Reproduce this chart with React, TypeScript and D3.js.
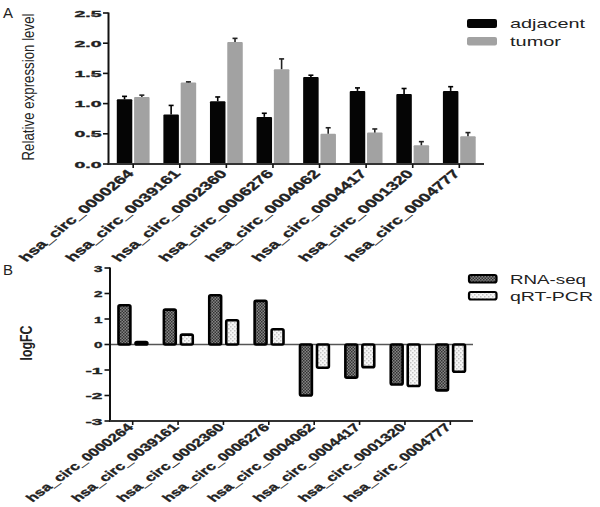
import React from "react";
import * as d3 from "d3";

const categories = [
  "hsa_circ_0000264",
  "hsa_circ_0039161",
  "hsa_circ_0002360",
  "hsa_circ_0006276",
  "hsa_circ_0004062",
  "hsa_circ_0004417",
  "hsa_circ_0001320",
  "hsa_circ_0004777",
];
const adjacent = [1.07, 0.82, 1.04, 0.78, 1.44, 1.21, 1.16, 1.21];
const adjacentErr = [0.05, 0.15, 0.07, 0.06, 0.03, 0.05, 0.09, 0.07];
const tumor = [1.11, 1.35, 2.02, 1.57, 0.5, 0.52, 0.31, 0.46];
const tumorErr = [0.03, 0.01, 0.06, 0.17, 0.1, 0.06, 0.06, 0.06];
const rnaSeq = [1.59, 1.42, 1.98, 1.76, -2.05, -1.35, -1.62, -1.85];
const qrtPcr = [0.15, 0.44, 1.0, 0.65, -0.96, -0.94, -1.68, -1.12];
const ticksA = [0, 0.5, 1.0, 1.5, 2.0, 2.5];
const ticksB = [-3, -2, -1, 0, 1, 2, 3];

const SX = 1.3;
const SY = 0.92;
const FONT = "'Liberation Sans', Arial, Helvetica, sans-serif";
const TXT = "#222";

function ST(props: {
  x: number;
  y: number;
  len: number;
  size: number;
  anchor?: string;
  weight?: string;
  rot?: number;
  heavy?: boolean;
  children: React.ReactNode;
}) {
  const { x, y, len, size, anchor = "start", weight = "normal", rot = 0, heavy = false, children } = props;
  const factor = rot
    ? Math.sqrt(Math.pow(SX * Math.cos((rot * Math.PI) / 180), 2) + Math.pow(SY * Math.sin((rot * Math.PI) / 180), 2))
    : SX;
  return (
    <text
      transform={`translate(${x},${y}) scale(${SX},${SY})${rot ? ` rotate(${rot})` : ""}`}
      fontSize={size}
      fontWeight={weight}
      fontFamily={FONT}
      fill={TXT}
      stroke={heavy ? TXT : "none"}
      strokeWidth={heavy ? 0.35 : 0}
      textAnchor={anchor}
      textLength={len / factor}
      lengthAdjust="spacingAndGlyphs"
    >
      {children}
    </text>
  );
}

export default function App() {
  // Panel A scales
  const xA = d3.scalePoint<string>().domain(categories).range([108.5, 484]).padding(0.53);
  const yA = d3.scaleLinear().domain([0, 2.5]).range([164, 13]);
  // Panel B scales
  const xB = d3.scalePoint<string>().domain(categories).range([110, 473]).padding(0.5);
  const yB = d3.scaleLinear().domain([-3, 3]).range([421, 268]);

  const bwA = 15.5;
  const gapA = 0.9;
  const bwB = 14.5;
  const sw = 2.6;

  return (
    <svg
      width={600}
      height={507}
      style={{ position: "absolute", left: 0, top: 0, background: "#fff" }}
    >
      <defs>
        <pattern id="rnaPat" width="3" height="3" patternUnits="userSpaceOnUse">
          <rect width="3" height="3" fill="#858585" />
          <rect width="1.5" height="1.5" fill="#333" />
          <rect x="1.5" y="1.5" width="1.5" height="1.5" fill="#333" />
        </pattern>
        <pattern id="qrtPat" width="4" height="4" patternUnits="userSpaceOnUse">
          <rect width="4" height="4" fill="#f6f6f6" />
          <rect width="1.5" height="1.5" fill="#c4c4c4" />
          <rect x="2" y="2" width="1.5" height="1.5" fill="#c4c4c4" />
        </pattern>
      </defs>

      {/* Panel labels */}
      <text x={3} y={18} fontSize={15} fontFamily={FONT} fill={TXT}>A</text>
      <text x={3} y={275} fontSize={15} fontFamily={FONT} fill={TXT}>B</text>

      {/* ===== Panel A ===== */}
      {categories.map((c, i) => {
        const cx = xA(c)!;
        const ax = cx - gapA - bwA;
        const tx = cx + gapA;
        return (
          <g key={c}>
            <rect x={ax} y={yA(adjacent[i])} width={bwA} height={yA(0) - yA(adjacent[i])} fill="#050505" rx={1} />
            <rect x={tx} y={yA(tumor[i])} width={bwA} height={yA(0) - yA(tumor[i])} fill="#a2a2a2" rx={1} />
            {/* error bars */}
            <line x1={ax + bwA / 2} x2={ax + bwA / 2} y1={yA(adjacent[i])} y2={yA(adjacent[i] + adjacentErr[i])} stroke="#000" strokeWidth={1.6} />
            <line x1={ax + bwA / 2 - 2.5} x2={ax + bwA / 2 + 2.5} y1={yA(adjacent[i] + adjacentErr[i])} y2={yA(adjacent[i] + adjacentErr[i])} stroke="#000" strokeWidth={1.6} />
            <line x1={tx + bwA / 2} x2={tx + bwA / 2} y1={yA(tumor[i])} y2={yA(tumor[i] + tumorErr[i])} stroke="#222" strokeWidth={1.6} />
            <line x1={tx + bwA / 2 - 2.5} x2={tx + bwA / 2 + 2.5} y1={yA(tumor[i] + tumorErr[i])} y2={yA(tumor[i] + tumorErr[i])} stroke="#222" strokeWidth={1.6} />
          </g>
        );
      })}
      {/* axes A */}
      <line x1={108.5} x2={108.5} y1={yA(2.5) - 0.5} y2={yA(0) + 1} stroke="#111" strokeWidth={2} />
      <line x1={108} x2={484} y1={yA(0)} y2={yA(0)} stroke="#333" strokeWidth={2} />
      {ticksA.map((t) => (
        <g key={t}>
          <line x1={103} x2={108.5} y1={yA(t)} y2={yA(t)} stroke="#111" strokeWidth={1.6} />
          <ST x={101.5} y={yA(t) + 3.5} len={27} size={10} anchor="end" weight="bold" heavy>
            {t.toFixed(1)}
          </ST>
        </g>
      ))}
      {categories.map((c) => (
        <g key={"ta" + c}>
          <line x1={xA(c)!} x2={xA(c)!} y1={yA(0)} y2={yA(0) + 4} stroke="#111" strokeWidth={1.6} />
          <ST x={xA(c)! + 1.5} y={yA(0) + 10} len={140} size={12.5} anchor="end" weight="bold" rot={-49} heavy>
            {c}
          </ST>
        </g>
      ))}
      <text
        transform={`translate(34,${(13 + 161) / 2}) scale(1.25,1) rotate(-90)`}
        fontSize={13}
        fontFamily={FONT}
        fill={TXT}
        textAnchor="middle"
        textLength={147}
        lengthAdjust="spacingAndGlyphs"
      >
        Relative expression level
      </text>
      {/* legend A */}
      <rect x={467} y={19} width={30} height={9} rx={2} fill="#050505" />
      <rect x={467} y={37} width={30} height={8.5} rx={2} fill="#a2a2a2" />
      <ST x={510} y={28} len={75} size={13.5}>adjacent</ST>
      <ST x={510} y={45.5} len={51} size={13.5}>tumor</ST>

      {/* ===== Panel B ===== */}
      <line x1={110} x2={473} y1={yB(0)} y2={yB(0)} stroke="#555" strokeWidth={1.5} />
      {categories.map((c, i) => {
        const cx = xB(c)!;
        const rx0 = cx - 15.5;
        const qx0 = cx + 1.5;
        const rTop = Math.min(yB(rnaSeq[i]), yB(0));
        const rH = Math.abs(yB(rnaSeq[i]) - yB(0));
        const qTop = Math.min(yB(qrtPcr[i]), yB(0));
        const qH = Math.abs(yB(qrtPcr[i]) - yB(0));
        const inset = sw / 2;
        return (
          <g key={"b" + c}>
            <rect
              x={rx0 + inset}
              y={rTop + (rnaSeq[i] > 0 ? inset : 0)}
              width={bwB - sw}
              height={rH - inset}
              fill="url(#rnaPat)"
              stroke="#000"
              strokeWidth={sw}
              rx={1.5}
            />
            <rect
              x={qx0 + inset}
              y={qTop + (qrtPcr[i] > 0 ? inset : 0)}
              width={bwB - sw}
              height={qH - inset}
              fill="url(#qrtPat)"
              stroke="#000"
              strokeWidth={sw}
              rx={1.5}
            />
          </g>
        );
      })}
      {/* axes B */}
      <line x1={110} x2={110} y1={yB(3) - 0.5} y2={yB(-3) + 1} stroke="#111" strokeWidth={2} />
      <line x1={110} x2={473} y1={yB(-3)} y2={yB(-3)} stroke="#333" strokeWidth={2} />
      {ticksB.map((t) => (
        <g key={"tb" + t}>
          <line x1={104.5} x2={110} y1={yB(t)} y2={yB(t)} stroke="#111" strokeWidth={1.6} />
          <ST x={102.5} y={yB(t) + 3.5} len={t < 0 ? 17 : 8.5} size={10} anchor="end" weight="bold" heavy>
            {String(t)}
          </ST>
        </g>
      ))}
      {categories.map((c) => (
        <g key={"tbx" + c}>
          <line x1={xB(c)!} x2={xB(c)!} y1={yB(-3)} y2={yB(-3) + 4} stroke="#111" strokeWidth={1.6} />
          <ST x={xB(c)! + 1.5} y={yB(-3) + 7} len={126} size={12} anchor="end" weight="bold" rot={-46} heavy>
            {c}
          </ST>
        </g>
      ))}
      <text
        transform={`translate(32,343) scale(1.2,1) rotate(-90)`}
        fontSize={13}
        fontWeight="bold"
        fontFamily={FONT}
        fill={TXT}
        textAnchor="middle"
        textLength={35}
        lengthAdjust="spacingAndGlyphs"
      >
        logFC
      </text>
      {/* legend B */}
      <rect x={469} y={275} width={27.5} height={7.5} rx={2} fill="url(#rnaPat)" stroke="#000" strokeWidth={2.2} />
      <rect x={469} y={292} width={27.5} height={7.5} rx={2} fill="url(#qrtPat)" stroke="#000" strokeWidth={2.2} />
      <ST x={510} y={283.5} len={76} size={13.5}>RNA-seq</ST>
      <ST x={510} y={300.5} len={83} size={13.5}>qRT-PCR</ST>
    </svg>
  );
}
